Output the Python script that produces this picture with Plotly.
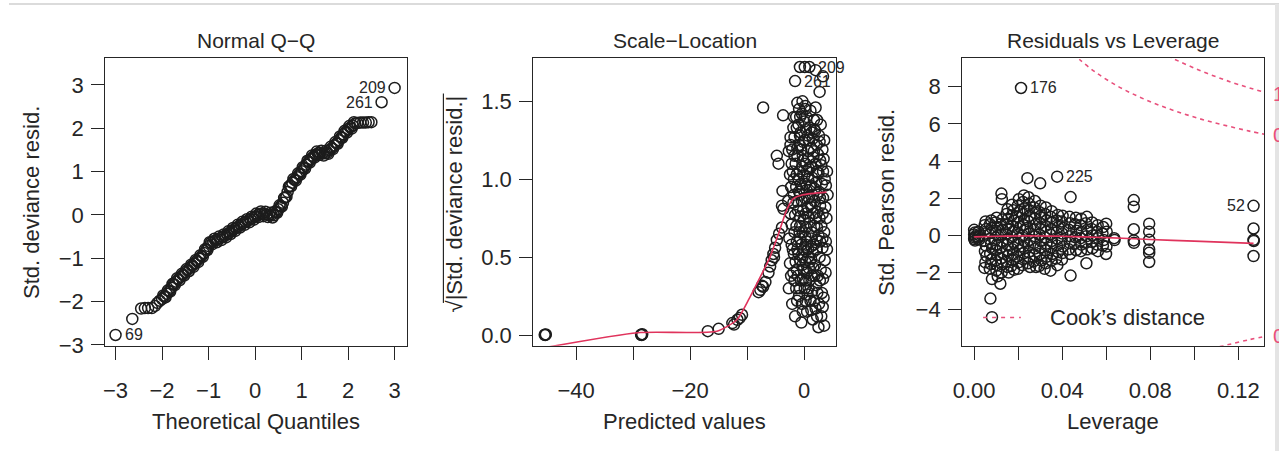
import plotly.graph_objects as go

# ---------------- data ----------------
# Panel 1: Normal Q-Q (theoretical quantile, std. deviance residual)
qq_x = [-2.64, -2.45, -2.37, -2.30, -2.22, -2.15, -2.10, -2.05,
        -2.00, -1.95, -1.90, -1.85, -1.80, -1.75, -1.70, -1.65, -1.60, -1.55,
        -1.50, -1.45, -1.40, -1.35, -1.30, -1.25, -1.20, -1.15, -1.10, -1.05,
        -1.00, -0.95, -0.90, -0.85, -0.80, -0.75, -0.70, -0.65, -0.60, -0.55,
        -0.50, -0.45, -0.40, -0.35, -0.30, -0.25, -0.20, -0.15, -0.10, -0.05,
        0.00, 0.05, 0.10, 0.15, 0.20, 0.25, 0.30, 0.35, 0.40, 0.45,
        0.50, 0.55, 0.60, 0.65, 0.70, 0.75, 0.80, 0.85, 0.90, 0.95,
        1.00, 1.05, 1.10, 1.15, 1.20, 1.25, 1.30, 1.35, 1.40, 1.45,
        1.50, 1.55, 1.60, 1.65, 1.70, 1.75, 1.80, 1.85, 1.90, 1.95,
        2.00, 2.05, 2.10, 2.15, 2.20, 2.26, 2.32, 2.38, 2.44, 2.50]
qq_y = [-2.40, -2.16, -2.15, -2.15, -2.15, -2.10, -2.03, -1.98,
        -1.94, -1.88, -1.82, -1.76, -1.68, -1.60, -1.54, -1.48, -1.43, -1.38,
        -1.32, -1.27, -1.22, -1.17, -1.12, -1.06, -1.01, -0.95, -0.88, -0.80,
        -0.72, -0.64, -0.61, -0.59, -0.56, -0.54, -0.51, -0.48, -0.45, -0.41,
        -0.37, -0.33, -0.30, -0.26, -0.22, -0.19, -0.16, -0.13, -0.10, -0.07,
        -0.04, -0.01, 0.02, 0.03, 0.02, 0.01, 0.00, 0.00, -0.01, 0.06,
        0.13, 0.20, 0.28, 0.40, 0.53, 0.67, 0.74, 0.81, 0.87, 0.94,
        1.01, 1.08, 1.16, 1.23, 1.29, 1.34, 1.39, 1.42, 1.43, 1.42,
        1.42, 1.43, 1.49, 1.54, 1.60, 1.65, 1.72, 1.79, 1.86, 1.92,
        1.98, 2.02, 2.06, 2.11, 2.12, 2.13, 2.13, 2.13, 2.14, 2.14]
# in-between residuals that thicken the band
qq_x2 = [-1.975, -1.925, -1.875, -1.825, -1.775, -1.725, -1.675, -1.625, -1.575, -1.525,
         -1.475, -1.425, -1.375, -1.325, -1.275, -1.225, -1.175, -1.125, -1.075, -1.025,
         -0.975, -0.925, -0.875, -0.825, -0.775, -0.725, -0.675, -0.625, -0.575, -0.525,
         -0.475, -0.425, -0.375, -0.325, -0.275, -0.225, -0.175, -0.125, -0.075, -0.025,
         0.025, 0.075, 0.125, 0.175, 0.225, 0.275, 0.325, 0.375, 0.425, 0.475,
         0.525, 0.575, 0.625, 0.675, 0.725, 0.775, 0.825, 0.875, 0.925, 0.975,
         1.025, 1.075, 1.125, 1.175, 1.225, 1.275, 1.325, 1.375, 1.425, 1.475,
         1.525, 1.575, 1.625, 1.675, 1.725, 1.775, 1.825, 1.875, 1.925, 1.975,
         2.025, 2.075, 2.125]
qq_y2 = [-1.86, -1.90, -1.74, -1.77, -1.59, -1.62, -1.46, -1.51, -1.36, -1.40,
         -1.25, -1.30, -1.15, -1.20, -1.04, -1.09, -0.93, -0.97, -0.79, -0.81,
         -0.63, -0.68, -0.55, -0.63, -0.50, -0.58, -0.45, -0.52, -0.38, -0.44,
         -0.30, -0.37, -0.23, -0.29, -0.16, -0.23, -0.10, -0.17, -0.04, -0.11,
         0.03, -0.05, 0.08, -0.03, 0.07, -0.05, 0.05, -0.06, 0.08, 0.05,
         0.22, 0.19, 0.39, 0.42, 0.65, 0.66, 0.83, 0.79, 0.96, 0.93,
         1.10, 1.07, 1.25, 1.21, 1.37, 1.32, 1.46, 1.38, 1.48, 1.37,
         1.48, 1.41, 1.57, 1.52, 1.68, 1.64, 1.81, 1.78, 1.94, 1.90,
         2.05, 1.99, 2.14]
qq_id = ["209", "261", "69"]
qq_id_x = [3.00, 2.72, -3.00]
qq_id_y = [2.93, 2.60, -2.77]

# Panel 2: Scale-Location (predicted value, sqrt|std. deviance resid.|)
pred_x = [-45.4, -45.3, -45.5, -28.5, -28.4, -28.6, -16.9, -15.0,
          -12.6, -12.3, -11.7, -10.9, -11.3,
          -8.0, -7.7, -7.4, -6.8, -7.2,
          -6.26, -5.97, -5.7, -5.4, -5.1, -5.3,
          -4.8, -4.4, -3.9, -3.65, -3.9, -3.8,
          -7.2, -3.7, -4.8, -4.5,
          -2.7, -2.5, -2.6, -2.8, -2.5, -2.7, -2.4,
          -2.1, -1.9, -2.0, -2.2, -1.8, -2.0, -2.1, -1.9,
          -1.6, -1.4, -1.5, -1.3, -1.6, -1.4, -1.5, -1.7, -1.4, -1.2,
          -0.9, -1.1, -1.0, -0.8, -1.1, -0.9, -1.0, -1.2, -0.8, -1.0, -0.9,
          -0.5, -0.4, -0.6, -0.3, -0.5, -0.7, -0.4, -0.6, -0.3, -0.5, -0.6, -0.4,
          0.1, -0.1, 0.0, 0.2, -0.1, 0.1, 0.0, -0.2, 0.1, 0.0, 0.2,
          0.5, 0.6, 0.4, 0.7, 0.5, 0.3, 0.6, 0.4, 0.5, 0.7, 0.6, 0.4,
          1.1, 0.9, 1.0, 1.2, 0.9, 1.1, 1.0, 0.8, 1.2, 1.0, 1.1,
          1.5, 1.4, 1.6, 1.5, 1.3, 1.7, 1.5, 1.4, 1.6, 1.5, 1.7,
          2.0, 2.1, 1.9, 2.2, 2.0, 1.8, 2.1, 2.0, 2.2, 1.9, 2.0,
          2.5, 2.6, 2.4, 2.7, 2.5, 2.3, 2.6, 2.5, 2.4, 2.6,
          3.0, 3.1, 2.9, 3.2, 3.0, 2.8, 3.1, 3.0, 3.2, 2.9,
          3.5, 3.4, 3.6, 3.5, 3.3, 3.6, 3.4, 3.5,
          4.0, 3.9, 4.1, 4.0,
          -0.75, 0.1, 2.0, 3.3, 2.7,
          -2.3, -2.2, -2.4, -2.3, -2.2, -2.4,
          -1.7, -1.8, -1.7, -1.9, -1.8, -1.7, -1.8,
          -1.25, -1.3, -1.2, -1.35, -1.25, -1.3, -1.2, -1.3,
          -0.75, -0.7, -0.8, -0.75, -0.7, -0.8, -0.75, -0.7,
          -0.25, -0.2, -0.3, -0.25, -0.2, -0.3, -0.25, -0.2, -0.3,
          0.25, 0.3, 0.2, 0.25, 0.3, 0.2, 0.25, 0.3, 0.2,
          0.75, 0.8, 0.7, 0.75, 0.8, 0.7, 0.75, 0.8,
          1.25, 1.3, 1.2, 1.25, 1.3, 1.2, 1.25, 1.3,
          1.75, 1.8, 1.7, 1.75, 1.8, 1.7, 1.75,
          2.25, 2.3, 2.2, 2.25, 2.3, 2.2, 2.25,
          2.75, 2.8, 2.7, 2.75, 2.8, 2.7,
          3.25, 3.3, 3.2, 3.25, 3.3,
          3.75, 3.8, 3.7, 3.8]
pred_y = [0.000, 0.004, 0.002, 0.000, 0.005, 0.002, 0.025, 0.040,
          0.077, 0.067, 0.098, 0.130, 0.110,
          0.275, 0.290, 0.317, 0.340, 0.310,
          0.40, 0.44, 0.48, 0.52, 0.56, 0.50,
          0.61, 0.65, 0.69, 0.81, 0.83, 0.925,
          1.46, 1.41, 1.15, 1.10,
          0.30, 0.46, 0.62, 0.86, 1.03, 1.18, 1.27,
          0.20, 0.40, 0.55, 0.71, 0.90, 1.05, 1.19, 1.33,
          0.12, 0.30, 0.47, 0.60, 0.77, 0.95, 1.10, 1.27, 1.40, 1.49,
          0.25, 0.38, 0.52, 0.66, 0.80, 0.92, 1.00, 1.15, 1.22, 1.35, 1.45,
          0.08, 0.20, 0.35, 0.45, 0.58, 0.70, 0.86, 0.97, 1.08, 1.19, 1.30, 1.42,
          0.30, 0.42, 0.55, 0.63, 0.74, 0.88, 1.02, 1.12, 1.25, 1.37, 1.47,
          0.15, 0.26, 0.40, 0.50, 0.60, 0.69, 0.82, 0.93, 1.05, 1.18, 1.28, 1.40,
          0.22, 0.35, 0.47, 0.57, 0.72, 0.84, 0.95, 1.07, 1.20, 1.33, 1.44,
          0.10, 0.28, 0.43, 0.53, 0.66, 0.78, 0.90, 1.01, 1.14, 1.26, 1.38,
          0.17, 0.32, 0.45, 0.61, 0.75, 0.86, 0.98, 1.10, 1.22, 1.31, 1.46,
          0.05, 0.20, 0.38, 0.50, 0.64, 0.79, 0.92, 1.04, 1.16, 1.28,
          0.12, 0.27, 0.42, 0.56, 0.70, 0.83, 0.97, 1.09, 1.19, 1.35,
          0.06, 0.24, 0.48, 0.66, 0.88, 1.00, 1.13, 1.25,
          0.55, 0.75, 0.90, 1.05,
          1.72, 1.72, 1.70, 1.66, 1.56,
          0.38, 0.58, 0.78, 0.95, 1.10, 1.22,
          0.35, 0.52, 0.66, 0.85, 1.00, 1.15, 1.40,
          0.22, 0.42, 0.55, 0.70, 0.86, 1.03, 1.20, 1.33,
          0.30, 0.48, 0.62, 0.76, 0.90, 1.05, 1.28, 1.40,
          0.15, 0.36, 0.50, 0.66, 0.80, 0.94, 1.15, 1.24, 1.50,
          0.22, 0.35, 0.47, 0.58, 0.78, 0.97, 1.10, 1.32, 1.45,
          0.30, 0.43, 0.55, 0.76, 0.88, 1.00, 1.13, 1.25,
          0.16, 0.38, 0.49, 0.62, 0.82, 0.96, 1.08, 1.30,
          0.22, 0.38, 0.58, 0.70, 0.94, 1.18, 1.32,
          0.12, 0.27, 0.55, 0.69, 0.90, 1.05, 1.38,
          0.35, 0.60, 0.75, 0.88, 1.12, 1.24,
          0.18, 0.36, 0.62, 0.78, 1.05,
          0.40, 0.60, 0.82, 0.96]
pred_id = ["209", "261"]
pred_id_x = [0.9, -1.6]
pred_id_y = [1.72, 1.63]
pred_smooth_x = [-45.4, -29.2, -15.3, -11.8, -9.7, -8.3, -6.0, -4.5, -3.1, -1.9, -0.2, 3.9]
pred_smooth_y = [-0.08, 0.015, 0.025, 0.098, 0.23, 0.33, 0.50, 0.65, 0.80, 0.875, 0.90, 0.917]

# Panel 3: Residuals vs Leverage
lev_h = [0.0000, 0.0003, 0.0000, 0.0005, 0.0002, 0.0000, 0.0004,
         0.0020, 0.0024, 0.0018, 0.0022,
         0.0052, 0.0048, 0.0055, 0.0050, 0.0046, 0.0053, 0.0049, 0.0056, 0.0051, 0.0047,
         0.0078, 0.0072, 0.0080, 0.0075, 0.0070, 0.0077, 0.0082, 0.0073, 0.0079, 0.0076, 0.0071, 0.0081, 0.0074, 0.0081,
         0.0102, 0.0097, 0.0105, 0.0099, 0.0108, 0.0095, 0.0103, 0.0100, 0.0106, 0.0098, 0.0104, 0.0101, 0.0107,
         0.0124, 0.0126, 0.0128, 0.0121, 0.0130, 0.0123, 0.0127, 0.0120, 0.0129, 0.0122, 0.0126, 0.0125, 0.0119,
         0.0152, 0.0147, 0.0155, 0.0149, 0.0156, 0.0145, 0.0153, 0.0150, 0.0148, 0.0154, 0.0146, 0.0151, 0.0157,
         0.0172, 0.0178, 0.0170, 0.0180, 0.0174, 0.0176, 0.0171, 0.0179, 0.0173, 0.0177, 0.0175, 0.0169, 0.0181,
         0.0203, 0.0198, 0.0206, 0.0195, 0.0201, 0.0208, 0.0197, 0.0204, 0.0200, 0.0207, 0.0196, 0.0202, 0.0199,
         0.0226, 0.0222, 0.0229, 0.0220, 0.0227, 0.0224, 0.0230, 0.0221, 0.0228, 0.0223, 0.0225, 0.0231, 0.0219,
         0.0242, 0.0247, 0.0250, 0.0243, 0.0252, 0.0246, 0.0241, 0.0249, 0.0253, 0.0244, 0.0248, 0.0251, 0.0245, 0.0254,
         0.0276, 0.0272, 0.0279, 0.0274, 0.0280, 0.0271, 0.0277, 0.0273, 0.0278, 0.0275, 0.0270, 0.0281,
         0.0300, 0.0302, 0.0297, 0.0305, 0.0299, 0.0303, 0.0296, 0.0304, 0.0301, 0.0298, 0.0306, 0.0295,
         0.0326, 0.0322, 0.0329, 0.0324, 0.0327, 0.0321, 0.0328, 0.0323, 0.0330, 0.0325, 0.0320,
         0.0352, 0.0348, 0.0355, 0.0350, 0.0346, 0.0353, 0.0349, 0.0356, 0.0351, 0.0347,
         0.0380, 0.0375, 0.0382, 0.0374, 0.0379, 0.0376, 0.0381, 0.0373, 0.0378,
         0.0402, 0.0398, 0.0405, 0.0400, 0.0397, 0.0404, 0.0401, 0.0399,
         0.0438, 0.0433, 0.0436, 0.0431, 0.0437, 0.0434, 0.0430, 0.0436, 0.0438,
         0.0462, 0.0458, 0.0464, 0.0460, 0.0457, 0.0463,
         0.0486, 0.0483, 0.0488, 0.0484, 0.0487, 0.0485,
         0.0512, 0.0508, 0.0514, 0.0510, 0.0507, 0.0513, 0.0510,
         0.0536, 0.0533, 0.0538, 0.0534, 0.0537,
         0.0561, 0.0558, 0.0563, 0.0559, 0.0562,
         0.0586, 0.0583, 0.0588, 0.0585,
         0.0600, 0.0602, 0.0601, 0.0599,
         0.0636, 0.0638,
         0.0725, 0.0725, 0.0725, 0.0725, 0.0726,
         0.0795, 0.0795, 0.0795, 0.0795, 0.0795, 0.0795,
         0.1269, 0.1269, 0.1270, 0.1269]
lev_r = [0.30, 0.15, 0.05, -0.05, -0.12, -0.20, -0.28,
         0.20, 0.00, -0.10, -0.22,
         0.75, 0.55, 0.35, 0.10, -0.30, -0.55, -0.85, -1.10, -1.45, -1.75,
         0.80, 0.60, 0.40, 0.15, -0.20, -0.45, -0.70, -1.00, -1.30, -1.55, -1.80, -2.35, -3.40, -4.40,
         0.95, 0.70, 0.45, 0.25, 0.00, -0.25, -0.50, -0.80, -1.05, -1.35, -1.60, -1.90, -2.20,
         2.25, 1.95, 0.85, 0.60, 0.30, 0.05, -0.35, -0.65, -0.95, -1.25, -1.55, -2.00, -2.60,
         1.40, 1.15, 0.90, 0.60, 0.35, 0.10, -0.20, -0.50, -0.80, -1.10, -1.40, -1.70, -2.00,
         1.65, 1.35, 1.05, 0.80, 0.50, 0.20, -0.10, -0.40, -0.75, -1.05, -1.35, -1.65, -1.85,
         1.95, 1.60, 1.30, 1.00, 0.70, 0.45, 0.15, -0.15, -0.45, -0.80, -1.15, -1.45, -1.80,
         2.15, 1.80, 1.45, 1.15, 0.85, 0.55, 0.30, 0.00, -0.30, -0.60, -0.95, -1.25, -1.60,
         3.08, 2.05, 1.70, 1.35, 1.05, 0.75, 0.40, 0.10, -0.25, -0.55, -0.90, -1.20, -1.50, -1.70,
         1.85, 1.50, 1.20, 0.90, 0.60, 0.30, -0.05, -0.40, -0.70, -1.05, -1.40, -1.70,
         2.80, 1.60, 1.25, 0.95, 0.65, 0.35, 0.05, -0.30, -0.65, -1.00, -1.35, -1.65,
         1.50, 1.15, 0.80, 0.50, 0.20, -0.10, -0.45, -0.80, -1.15, -1.50, -1.80,
         1.30, 1.00, 0.70, 0.35, 0.05, -0.30, -0.65, -1.00, -1.35, -1.90,
         1.10, 0.80, 0.45, 0.15, -0.20, -0.55, -0.90, -1.25, -1.60,
         1.05, 0.75, 0.40, 0.10, -0.25, -0.60, -0.95, -1.30,
         2.06, 1.00, 0.65, 0.30, -0.05, -0.40, -0.75, -1.00, -2.16,
         0.95, 0.60, 0.25, -0.10, -0.45, -0.80,
         0.90, 0.55, 0.20, -0.15, -0.50, -0.85,
         1.00, 0.65, 0.30, -0.05, -0.40, -0.75, -1.50,
         0.70, 0.35, 0.00, -0.35, -0.70,
         0.55, 0.20, -0.15, -0.50, -0.85,
         0.45, 0.10, -0.25, -0.55,
         0.63, 0.20, -0.60, -1.00,
         -0.15, -0.25,
         1.90, 1.54, 0.33, -0.27, -0.40,
         0.63, 0.20, -0.24, -0.76, -0.94, -1.43,
         0.37, -0.24, -0.30, -1.11]
lev_id = ["176", "225", "52"]
lev_id_h = [0.0213, 0.0377, 0.1269]
lev_id_r = [7.93, 3.16, 1.59]
lev_smooth_h = [0.000, 0.010, 0.020, 0.030, 0.040, 0.050, 0.060, 0.080, 0.100, 0.1269]
lev_smooth_r = [-0.08, -0.05, -0.03, -0.03, -0.05, -0.08, -0.12, -0.22, -0.31, -0.43]
# Cook's distance contours
cook05_h = [0.045, 0.048, 0.055, 0.065, 0.075, 0.085, 0.095, 0.105, 0.115, 0.125, 0.134]
cook05_r = [9.77, 9.45, 8.79, 8.04, 7.45, 6.96, 6.55, 6.19, 5.89, 5.61, 5.39]
cook1_h = [0.088, 0.091, 0.100, 0.110, 0.120, 0.134]
cook1_r = [9.66, 9.48, 9.00, 8.53, 8.12, 7.63]
cook05n_h = [0.108, 0.112, 0.115, 0.125, 0.134]
cook05n_r = [-6.10, -5.97, -5.89, -5.61, -5.39]
cook_levels = ["1", "0.5", "0.5"]

# ---------------- styling / layout ----------------
W, H = 1279, 463
FONT = "Liberation Sans, Arial, Helvetica, sans-serif"
INK = "#262626"
PTS = "#1c1c1c"
RED = "#E0335C"
PINK = "#E8507C"


def px(x):
    return x / W


def py(y):
    return 1 - y / H


mk = dict(symbol="circle-open", size=11, color=PTS, line=dict(width=1.5))

fig = go.Figure()
# panel 1
fig.add_trace(go.Scatter(x=qq_x + qq_x2 + qq_id_x, y=qq_y + qq_y2 + qq_id_y, mode="markers",
                         marker=mk, xaxis="x", yaxis="y", hoverinfo="skip"))
# panel 2
fig.add_trace(go.Scatter(x=pred_x + pred_id_x, y=pred_y + pred_id_y, mode="markers",
                         marker=mk, xaxis="x2", yaxis="y2", hoverinfo="skip"))
fig.add_trace(go.Scatter(x=pred_smooth_x, y=pred_smooth_y, mode="lines",
                         line=dict(color=RED, width=1.6, shape="spline", smoothing=0.6),
                         xaxis="x2", yaxis="y2", hoverinfo="skip"))
# panel 3
fig.add_trace(go.Scatter(x=lev_h + lev_id_h, y=lev_r + lev_id_r, mode="markers",
                         marker=mk, xaxis="x3", yaxis="y3", hoverinfo="skip"))
fig.add_trace(go.Scatter(x=lev_smooth_h, y=lev_smooth_r, mode="lines",
                         line=dict(color=RED, width=1.6, shape="spline", smoothing=0.6),
                         xaxis="x3", yaxis="y3", hoverinfo="skip"))
for ch, cr in [(cook05_h, cook05_r), (cook1_h, cook1_r), (cook05n_h, cook05n_r)]:
    fig.add_trace(go.Scatter(x=ch, y=cr, mode="lines",
                             line=dict(color=PINK, width=1.6, dash="4px,4px", shape="spline"),
                             xaxis="x3", yaxis="y3", hoverinfo="skip"))

YDOM = [py(355), py(60)]
XDOMS = [[px(97), px(401)], [px(528), px(833)], [px(960), px(1264)]]
tickfont = dict(family=FONT, size=22, color=INK)


def xax(dom, rng, vals, texts, anchor):
    return dict(domain=dom, range=rng, anchor=anchor, showline=True, mirror=True,
                linecolor=INK, linewidth=1.3, ticks="outside", ticklen=13, tickwidth=1.3,
                tickcolor=INK, tickvals=vals, ticktext=texts, showgrid=False,
                zeroline=False, tickfont=tickfont, ticklabelstandoff=12, fixedrange=True)


def yax(rng, vals, texts, anchor):
    return dict(domain=YDOM, range=rng, anchor=anchor, showline=True, mirror=True,
                linecolor=INK, linewidth=1.3, ticks="outside", ticklen=13, tickwidth=1.3,
                tickcolor=INK, tickvals=vals, ticktext=texts, showgrid=False,
                zeroline=False, tickfont=tickfont, ticklabelstandoff=3, fixedrange=True)


qq_ticks = [-3, -2, -1, 0, 1, 2, 3]
qq_ticktext = ["\u22123", "\u22122", "\u22121", "0", "1", "2", "3"]
pred_xticks = [-40, -30, -20, -10, 0]
pred_xtext = ["\u221240", "", "\u221220", "", "0"]
pred_yticks = [0.0, 0.5, 1.0, 1.5]
pred_ytext = ["0.0", "0.5", "1.0", "1.5"]
lev_xticks = [0.00, 0.02, 0.04, 0.06, 0.08, 0.10, 0.12]
lev_xtext = ["0.00", "", "0.04", "", "0.08", "", "0.12"]
lev_yticks = [-4, -2, 0, 2, 4, 6, 8]
lev_ytext = ["\u22124", "\u22122", "0", "2", "4", "6", "8"]

annotations = []


def txt(text, x, y, size=22, color=INK, angle=0, xanchor="center", yanchor="middle", **kw):
    annotations.append(dict(text=text, x=x, y=y, xref=kw.pop("xref", "paper"),
                            yref=kw.pop("yref", "paper"), showarrow=False,
                            font=dict(family=FONT, size=size, color=color),
                            textangle=angle, xanchor=xanchor, yanchor=yanchor, **kw))


# titles
txt("Normal Q\u2212Q", px(249), py(42), size=21)
txt("Scale\u2212Location", px(680.5), py(42), size=21)
txt("Residuals vs Leverage", px(1112), py(42), size=21)
# axis titles
txt("Theoretical Quantiles", px(249), py(433))
txt("Predicted values", px(680.5), py(433))
txt("Leverage", px(1112), py(433))
txt("Std. deviance resid.", px(22), py(207.5), angle=-90)
txt("\u221a|Std. deviance resid.|", px(449), py(209), angle=-90)
txt("Std. Pearson resid.", px(883), py(207.5), angle=-90)

# point labels
for t, xv, yv in zip(qq_id, qq_id_x, qq_id_y):
    right = xv > 0
    txt(t, xv, yv, size=16, xref="x", yref="y",
        xanchor="right" if right else "left", xshift=-7 if right else 7)
for t, xv, yv in zip(pred_id, pred_id_x, pred_id_y):
    txt(t, xv, yv, size=16, xref="x2", yref="y2", xanchor="left", xshift=7)
for t, xv, yv in zip(lev_id, lev_id_h, lev_id_r):
    right = xv > 0.1
    txt(t, xv, yv, size=16, xref="x3", yref="y3",
        xanchor="right" if right else "left", xshift=-7 if right else 7)

# Cook's contour level labels in the right margin
for t, yv in zip(cook_levels, [cook1_r[-1], cook05_r[-1], cook05n_r[-1]]):
    txt(t, px(1271), yv, size=20, color=PINK, xref="paper", yref="y3", xanchor="left")

# legend
txt("Cook\u2019s distance", px(1046), py(326), xanchor="left")

shapes = [
    # legend line sample
    dict(type="line", xref="paper", yref="paper", x0=px(981), x1=px(1019),
         y0=py(326), y1=py(326), line=dict(color=PINK, width=1.6, dash="4px,5px")),
    # overline of the square-root sign
    dict(type="line", xref="paper", yref="paper", x0=px(437.5), x1=px(437.5),
         y0=py(96), y1=py(311), line=dict(color=INK, width=1.2)),
    # screenshot frame
    dict(type="line", xref="paper", yref="paper", x0=0, x1=1, y0=py(4), y1=py(4),
         line=dict(color="#cfcfcf", width=1.5)),
    dict(type="rect", xref="paper", yref="paper", x0=px(1275), x1=1, y0=0, y1=py(4),
         fillcolor="#e4e4e4", line=dict(width=0), layer="above"),
]

fig.update_layout(
    width=W, height=H, margin=dict(l=0, r=0, t=0, b=0),
    paper_bgcolor="white", plot_bgcolor="white", showlegend=False,
    font=dict(family=FONT, color=INK),
    xaxis=xax(XDOMS[0], [-3.22, 3.27], qq_ticks, qq_ticktext, "y"),
    yaxis=yax([-3.02, 3.61], qq_ticks, qq_ticktext, "x"),
    xaxis2=xax(XDOMS[1], [-47.5, 5.6], pred_xticks, pred_xtext, "y2"),
    yaxis2=yax([-0.069, 1.775], pred_yticks, pred_ytext, "x2"),
    xaxis3=xax(XDOMS[2], [-0.0054, 0.1317], lev_xticks, lev_xtext, "y3"),
    yaxis3=yax([-5.94, 9.52], lev_yticks, lev_ytext, "x3"),
    annotations=annotations, shapes=shapes,
)

fig.write_html("out.html", config={"displayModeBar": False},
               post_script="document.body.style.margin='0';document.body.style.overflow='hidden';")
